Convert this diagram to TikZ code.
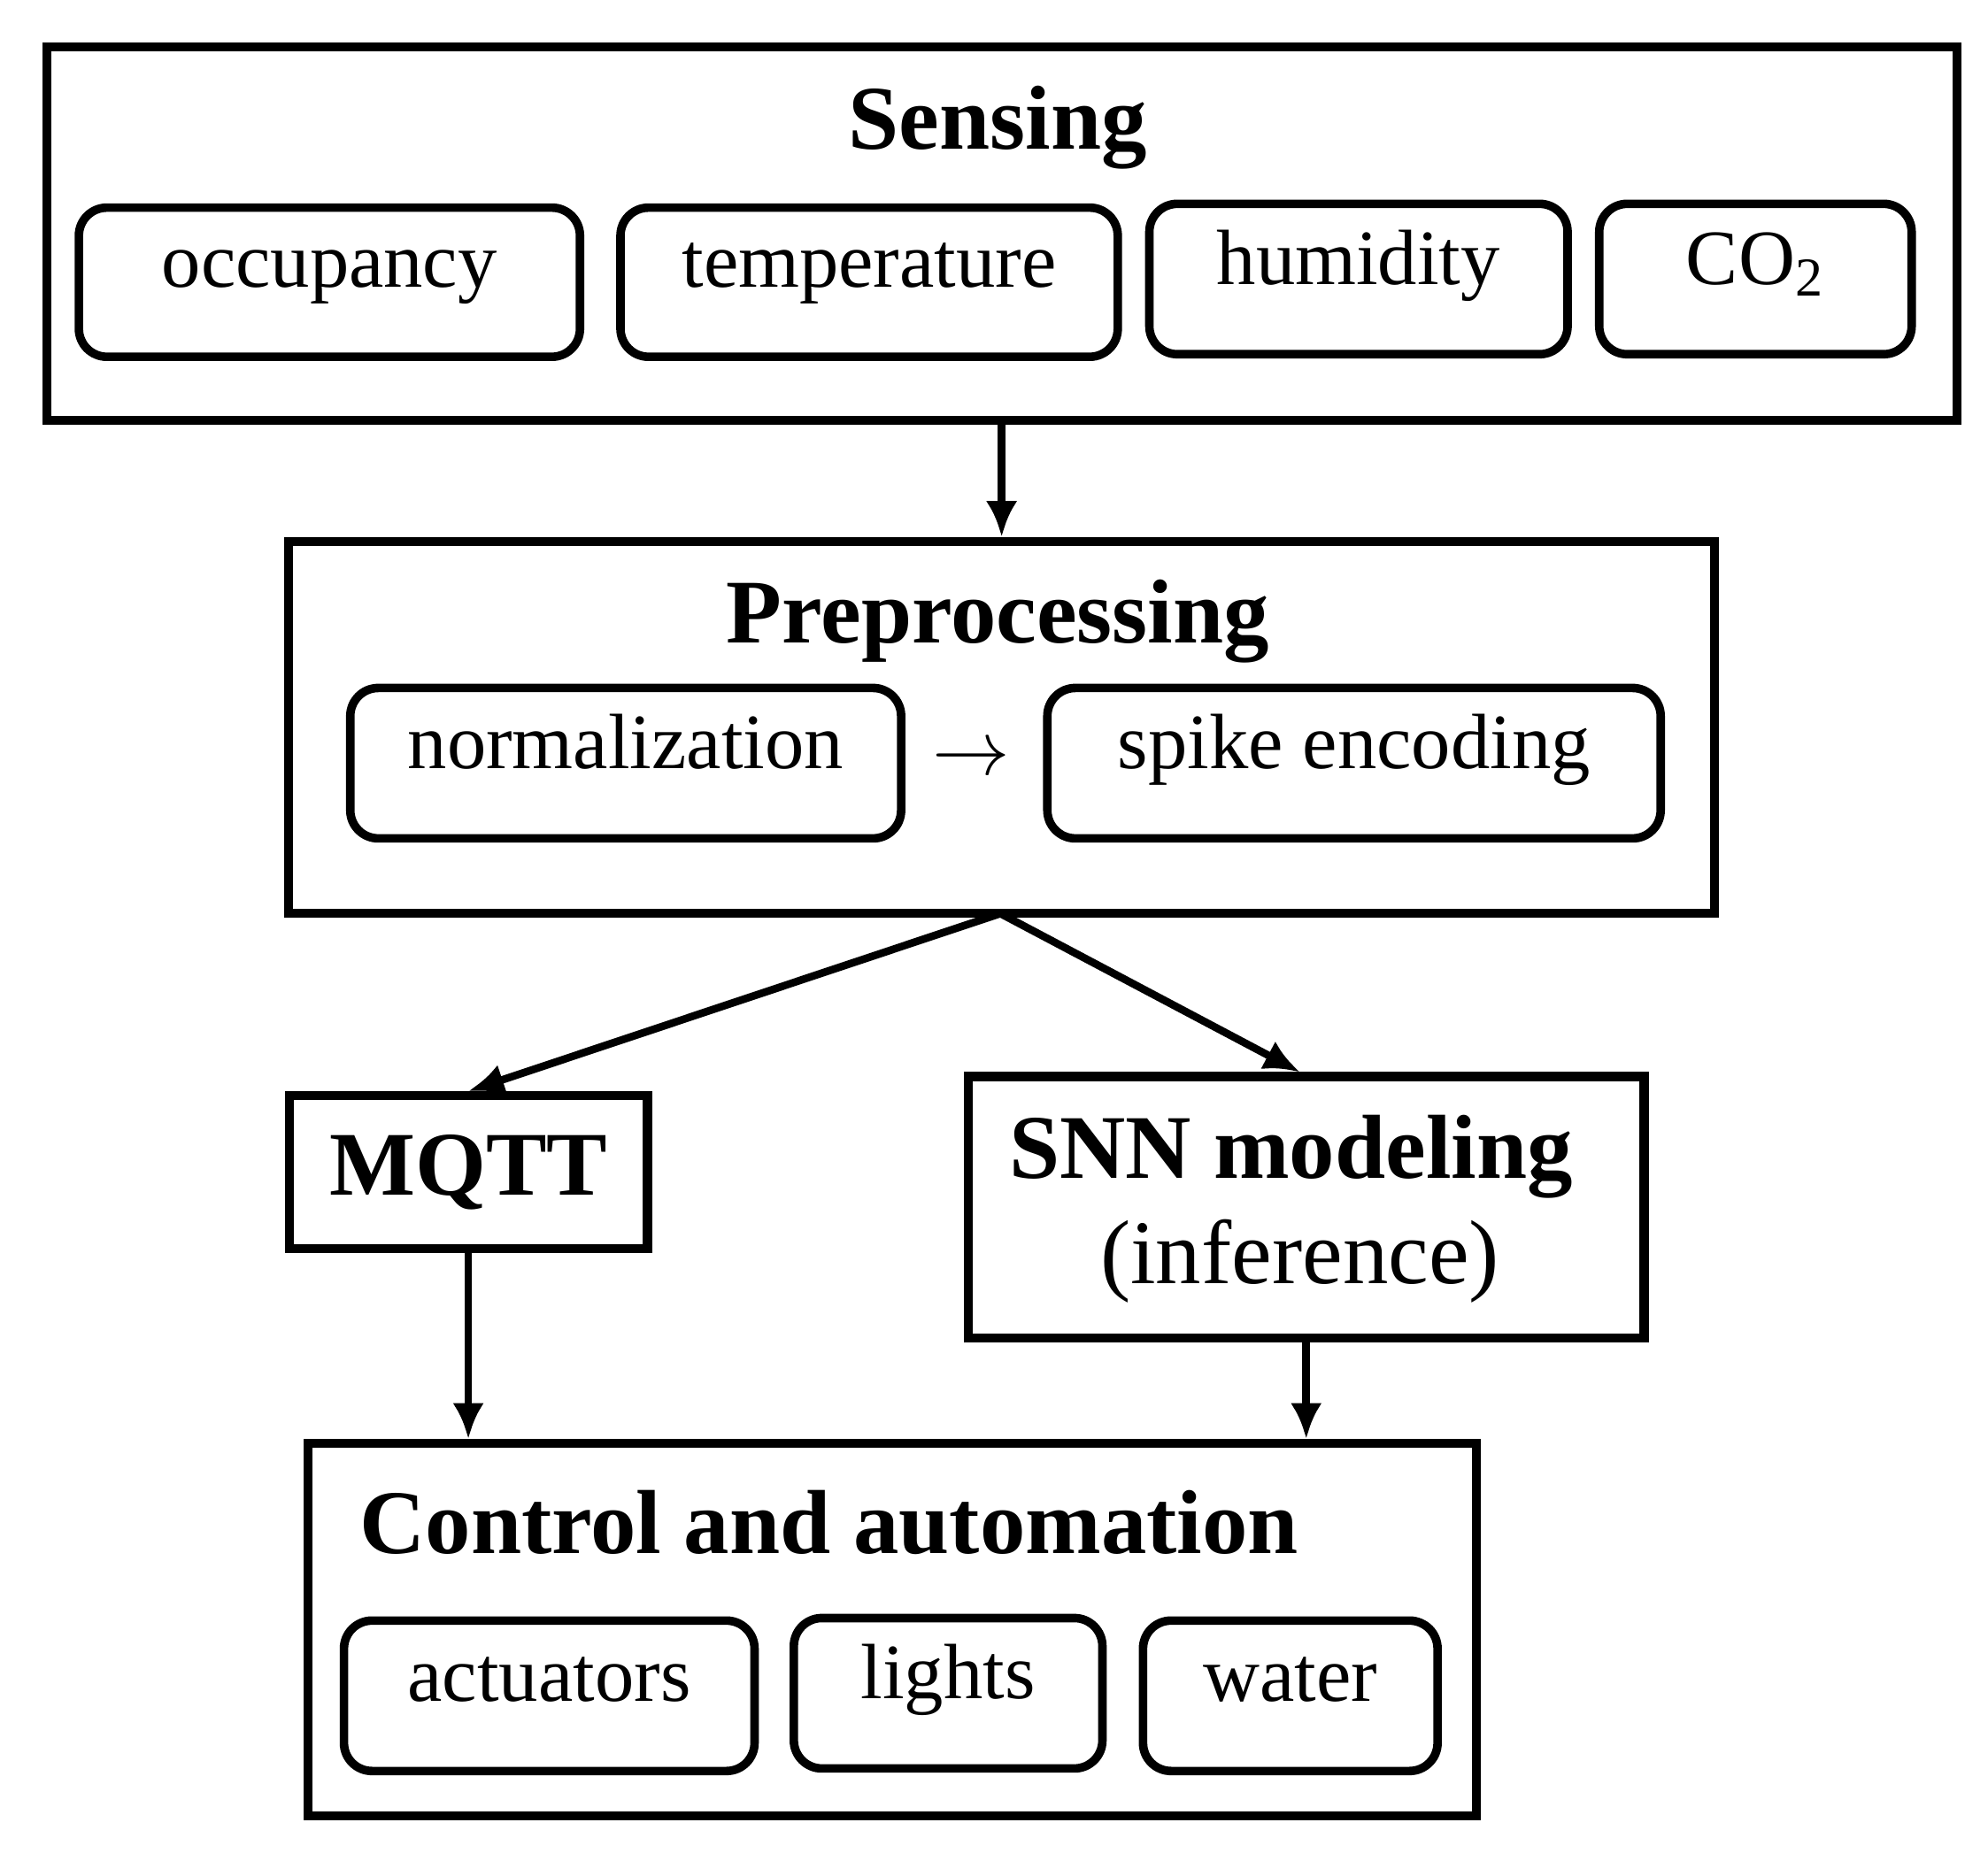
\documentclass[tikz,border=0pt]{standalone}
\usepackage{fontspec}
\setmainfont{Liberation Serif}
\usetikzlibrary{positioning,calc,arrows.meta}
\tikzset{
	frame/.style={draw,line width=2pt,inner sep=0pt},
	item/.style={draw,line width=1.9pt,rounded corners=0.22cm,inner sep=0pt,text height=1.2ex,text depth=0.7ex,font=\fontsize{17.5}{20}\selectfont},
	head/.style={font=\fontsize{20.3}{24}\selectfont\bfseries},
	link/.style={line width=1.7pt,-{Latex[length=8pt,width=7pt]}}
}
\begin{document}
\begin{tikzpicture}[x=0.01cm,y=-0.01cm]
\useasboundingbox (0,0) rectangle (1560,1460);

%Sensing
\node[frame,minimum width=14.98cm,minimum height=2.93cm] (sens) at (786,183.5) {};
\node[head] (senst) at (783,100) {Sensing};
\node[item,minimum width=3.93cm,minimum height=1.17cm] (occ) at (258.5,221.5) {occupancy};
\node[item,minimum width=3.9cm,minimum height=1.17cm] (temp) at (682,221.5) {temperature};
\node[item,minimum width=3.28cm,minimum height=1.18cm] (hum) at (1066,219) {humidity};
\node[item,minimum width=2.45cm,minimum height=1.18cm] (co) at (1377.5,219) {CO\textsubscript{2}};

%Preprocessing
\node[frame,minimum width=11.18cm,minimum height=2.92cm] (pre) at (786,571) {};
\node[head] (pret) at (783,488) {Preprocessing};
\node[item,minimum width=4.32cm,minimum height=1.18cm] (norm) at (491,599) {normalization};
\node[font=\fontsize{17.5}{20}\selectfont] (to) at (762,597) {$\rightarrow$};
\node[item,minimum width=4.81cm,minimum height=1.18cm] (spike) at (1062.5,599) {spike encoding};

%MQTT et SNN
\node[frame,head,minimum width=2.81cm,minimum height=1.2cm] (mqtt) at (367.5,920) {MQTT};
\node[frame,minimum width=5.3cm,minimum height=2.05cm] (snn) at (1025,947.5) {};
\node[head] (snnt) at (1013,908) {SNN modeling};
\node[font=\fontsize{20.3}{24}\selectfont] (inf) at (1020,990) {(inference)};

%Control
\node[frame,minimum width=9.16cm,minimum height=2.92cm] (ctrl) at (700,1279) {};
\node[head,anchor=west] (ctrlt) at (270,1195) {Control and automation};
\node[item,minimum width=3.22cm,minimum height=1.18cm] (act) at (431,1331) {actuators};
\node[item,minimum width=2.42cm,minimum height=1.18cm] (lig) at (744,1329) {lights};
\node[item,minimum width=2.31cm,minimum height=1.18cm] (wat) at (1012.5,1331) {water};

%Fleches
\coordinate (pb) at (785,717);
\draw[link] (sens.south) -- (pre.north);
\draw[link] (pb) -- (mqtt.north);
\draw[link] (pb) -- ($(snn.north)+(-5,0)$);
\draw[link] (mqtt.south) -- (mqtt.south|-ctrl.north);
\draw[link] (snn.south) -- (snn.south|-ctrl.north);
\end{tikzpicture}
\end{document}
